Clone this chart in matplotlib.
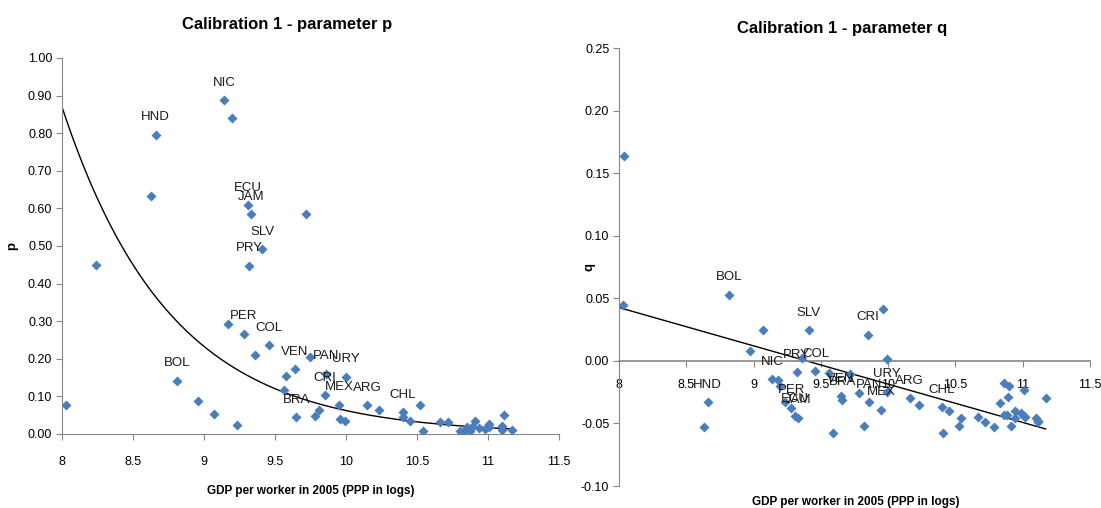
import numpy as np
import matplotlib
matplotlib.use('Agg')
import matplotlib.pyplot as plt

plt.rcParams['font.family'] = ['Liberation Sans Narrow', 'Liberation Sans', 'DejaVu Sans']

# ---- data: parameter p ----
gdp_p = [8.03, 8.24, 8.63, 8.66, 9.14, 9.20, 9.31, 9.33, 9.72, 9.41, 9.32,
         9.17, 9.28, 9.46, 9.36, 8.81, 8.96, 9.07, 9.23, 9.75, 9.64, 9.58,
         9.56, 9.86, 10.00, 9.85, 9.95, 10.15, 9.65, 9.78, 9.81, 9.96, 9.99,
         10.23, 10.40, 10.40, 10.45, 10.52, 10.54, 10.66, 10.72, 10.80, 10.83,
         10.85, 10.87, 10.89, 10.91, 10.94, 10.98, 11.01, 11.01, 11.10, 11.11,
         11.10, 11.17]
p_vals = [0.077, 0.450, 0.633, 0.796, 0.888, 0.840, 0.608, 0.585, 0.586, 0.492, 0.448,
          0.293, 0.267, 0.237, 0.211, 0.142, 0.088, 0.053, 0.024, 0.205, 0.172, 0.153,
          0.116, 0.160, 0.152, 0.104, 0.078, 0.077, 0.045, 0.049, 0.064, 0.040, 0.035,
          0.063, 0.058, 0.044, 0.035, 0.076, 0.009, 0.031, 0.031, 0.009, 0.009,
          0.018, 0.008, 0.018, 0.035, 0.015, 0.012, 0.027, 0.018, 0.022, 0.050,
          0.011, 0.011]
names_p = ['', '', '', 'HND', 'NIC', '', 'ECU', 'JAM', '', 'SLV', 'PRY',
           '', 'PER', 'COL', '', 'BOL', '', '', '', '', 'VEN', '',
           '', 'PAN', 'URY', 'CRI', 'MEX', 'ARG', 'BRA', '', '', '', '',
           '', 'CHL', '', '', '', '', '', '', '', '',
           '', '', '', '', '', '', '', '', '', '',
           '', '']
# exponential trendline p = a * exp(b * (x - 8))
p_trend_a, p_trend_b = 0.87, -1.318

# ---- data: parameter q ----
gdp_q = [8.04, 8.03, 8.82, 9.07, 8.97, 9.41, 9.85, 9.96, 9.99, 8.66, 8.63,
         9.14, 9.18, 9.20, 9.23, 9.28, 9.31, 9.33, 9.32, 9.46, 9.36, 9.56,
         9.59, 9.72, 9.65, 9.66, 9.78, 9.82, 9.86, 9.95, 9.99, 10.16, 10.23,
         10.40, 10.45, 10.41, 10.54, 10.53, 10.67, 10.72, 10.79, 10.83, 10.86,
         10.90, 10.89, 10.86, 10.88, 10.91, 10.94, 10.94, 11.01, 10.99, 11.01,
         11.02, 11.10, 11.11, 11.11, 11.17]
q_vals = [0.164, 0.045, 0.053, 0.025, 0.0075, 0.0245, 0.021, 0.0415, 0.0016, -0.033, -0.053,
          -0.0144, -0.015, -0.020, -0.033, -0.0375, -0.044, -0.0455, -0.0088, -0.0085, 0.002, -0.010,
          -0.058, -0.0106, -0.028, -0.031, -0.026, -0.052, -0.033, -0.039, -0.0245, -0.030, -0.035,
          -0.037, -0.040, -0.058, -0.046, -0.052, -0.045, -0.049, -0.053, -0.034, -0.018,
          -0.020, -0.029, -0.043, -0.043, -0.052, -0.040, -0.046, -0.023, -0.042, -0.044,
          -0.045, -0.046, -0.048, -0.049, -0.030]
names_q = ['', '', 'BOL', '', '', 'SLV', 'CRI', '', '', 'HND', '',
           'NIC', '', '', '', 'PER', 'ECU', 'JAM', 'PRY', 'COL', '', '',
           '', '', 'VEN', 'BRA', '', '', 'PAN', 'MEX', 'URY', 'ARG', '',
           'CHL', '', '', '', '', '', '', '', '', '',
           '', '', '', '', '', '', '', '', '', '',
           '', '', '', '', '']
# linear trendline q = c0 + c1 * x
q_trend_c0, q_trend_c1 = 0.2874, -0.0306

xticks = [8, 8.5, 9, 9.5, 10, 10.5, 11, 11.5]
xtick_labels = ['8', '8.5', '9', '9.5', '10', '10.5', '11', '11.5']

blue = '#4A7EBB'
grey = '#868686'

fig = plt.figure(figsize=(11.01, 5.08), dpi=100)

# ---------- left chart ----------
ax1 = fig.add_axes([0.0563, 0.1457, 0.4514, 0.7402])
ax1.scatter(gdp_p, p_vals, marker='D', s=26, color=blue, zorder=3, linewidths=0)
xs = np.linspace(8.0, max(gdp_p), 200)
ax1.plot(xs, p_trend_a * np.exp(p_trend_b * (xs - 8)), color='black', lw=1, zorder=2)
for x, y, n in zip(gdp_p, p_vals, names_p):
    if n:
        ax1.annotate(n, (x, y), xytext=(0, 12.5), textcoords='offset points',
                     ha='center', va='center', fontsize=9.5, color='#1a1a1a')
ax1.set_xlim(8, 11.5)
ax1.set_ylim(0, 1.0)
ax1.set_xticks(xticks)
ax1.set_xticklabels(xtick_labels)
ax1.set_yticks(np.arange(0, 1.01, 0.1))
ax1.set_yticklabels(['%.2f' % v for v in np.arange(0, 1.01, 0.1)])
ax1.tick_params(axis='x', length=4, color=grey, labelsize=9, pad=12)
ax1.tick_params(axis='y', length=4, color=grey, labelsize=9, pad=3)
for s in ['top', 'right']:
    ax1.spines[s].set_visible(False)
for s in ['left', 'bottom']:
    ax1.spines[s].set_color(grey)
ax1.set_title('Calibration 1 - parameter p', fontsize=12, fontweight='bold', x=0.453, pad=21)
ax1.set_xlabel('GDP per worker in 2005 (PPP in logs)', fontsize=8.5, fontweight='bold', labelpad=12)
ax1.set_ylabel('p', fontsize=9.5, fontweight='bold', labelpad=7)

# ---------- right chart ----------
ax2 = fig.add_axes([0.5622, 0.0433, 0.4278, 0.8622])
ax2.scatter(gdp_q, q_vals, marker='D', s=26, color=blue, zorder=3, linewidths=0)
xs = np.linspace(8.0, max(gdp_q), 50)
ax2.plot(xs, q_trend_c0 + q_trend_c1 * xs, color='black', lw=1, zorder=2)
for x, y, n in zip(gdp_q, q_vals, names_q):
    if n:
        ax2.annotate(n, (x, y), xytext=(0, 12.5), textcoords='offset points',
                     ha='center', va='center', fontsize=9.5, color='#1a1a1a')
ax2.set_xlim(8, 11.5)
ax2.set_ylim(-0.10, 0.25)
ax2.set_xticks(xticks)
ax2.set_xticklabels(xtick_labels)
qt = np.arange(-0.10, 0.251, 0.05)
ax2.set_yticks(qt)
ax2.set_yticklabels(['%.2f' % v if abs(v) > 1e-9 else '0.00' for v in qt])
ax2.tick_params(axis='x', length=4, color=grey, labelsize=9, pad=9)
ax2.tick_params(axis='y', length=4, color=grey, labelsize=9, pad=3)
for s in ['top', 'right']:
    ax2.spines[s].set_visible(False)
ax2.spines['bottom'].set_position(('data', 0))
ax2.spines['bottom'].set_color(grey)
ax2.spines['bottom'].set_linewidth(1.2)
ax2.spines['left'].set_color(grey)
ax2.set_title('Calibration 1 - parameter q', fontsize=12, fontweight='bold', x=0.473, pad=11)
ax2.set_ylabel('q', fontsize=9.5, fontweight='bold', va='center')
ax2.yaxis.set_label_coords(-0.062, 0.5)
fig.text(0.777, 0.012, 'GDP per worker in 2005 (PPP in logs)', fontsize=8.5,
         fontweight='bold', ha='center', va='center')

fig.savefig('out.png', dpi=100)
